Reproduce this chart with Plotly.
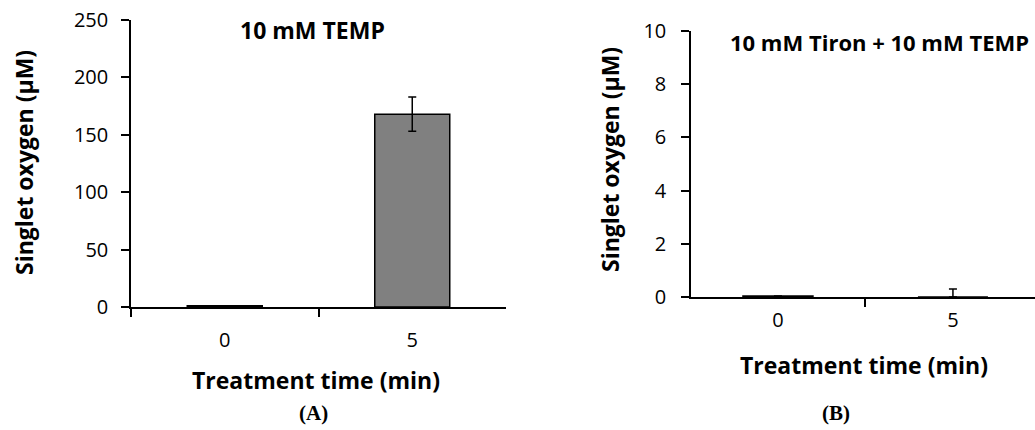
import plotly.graph_objects as go

categories = ["0", "5"]
temp_values = [1, 168]
temp_errors = [0, 15]
tiron_values = [0.04, 0]
tiron_errors = [0, 0.3]
temp_yticks = [0, 50, 100, 150, 200, 250]
tiron_yticks = [0, 2, 4, 6, 8, 10]

FONT = "Open Sans"
BAR_COLOR = "#808080"

fig = go.Figure()
fig.add_trace(go.Bar(
    x=categories, y=temp_values, xaxis="x", yaxis="y", width=0.4,
    marker=dict(color=BAR_COLOR, line=dict(color="black", width=1.5)),
    error_y=dict(type="data", array=temp_errors, visible=True, color="black", thickness=1.5, width=4),
    showlegend=False,
))
fig.add_trace(go.Bar(
    x=categories, y=tiron_values, xaxis="x2", yaxis="y2", width=0.4,
    marker=dict(color=BAR_COLOR, line=dict(color="black", width=1.5)),
    error_y=dict(type="data", array=tiron_errors, arrayminus=[0, 0], visible=True, color="black", thickness=1.5, width=4),
    showlegend=False,
))

axis_common = dict(showline=True, linecolor="black", linewidth=1.5, showgrid=False, zeroline=False,
                   ticks="outside", ticklen=8, tickwidth=1.5, tickcolor="black", automargin=False,
                   tickfont=dict(family=FONT, size=20, color="black"))

fig.update_layout(
    template="none",
    width=1035, height=430,
    margin=dict(l=0, r=0, t=0, b=0, pad=0),
    paper_bgcolor="white", plot_bgcolor="white",
    bargap=0.6,
    xaxis=dict(domain=[131/1035, 506/1035], type="category", tickson="boundaries",
               range=[-0.5, 1.5], anchor="y", ticklabelstandoff=14, **axis_common),
    yaxis=dict(domain=[123/430, 410/430], range=[0, 250], tickvals=temp_yticks, anchor="x",
               ticklabelstandoff=9, **axis_common),
    xaxis2=dict(domain=[691/1035, 1.0], type="category", tickson="boundaries",
                range=[-0.497, 1.469], anchor="y2", ticklabelstandoff=4, **axis_common),
    yaxis2=dict(domain=[133/430, 399/430], range=[0, 10], tickvals=tiron_yticks, anchor="x2",
                ticklabelstandoff=11, **axis_common),
)

def ann(text, x, y, size=19, bold=True, family=FONT, angle=0):
    fig.add_annotation(text=f"<b>{text}</b>" if bold else text, x=x/1035, y=1 - y/430,
                       xref="paper", yref="paper", showarrow=False, textangle=angle,
                       xanchor="center", yanchor="middle",
                       font=dict(family=family, size=size, color="black"))

ann("10 mM TEMP", 312, 30, size=23)
ann("10 mM Tiron + 10 mM TEMP", 879, 42, size=22)
ann("Treatment time (min)", 316, 380, size=23)
ann("Treatment time (min)", 864, 365, size=23)
ann("Singlet oxygen (µM)", 24, 163, size=23, angle=-90)
ann("Singlet oxygen (µM)", 610, 160, size=23, angle=-90)
ann("(A)", 313, 413, size=21, family="Liberation Serif")
ann("(B)", 836, 413, size=21, family="Liberation Serif")
fig.add_annotation(text="<b>*</b>", x="5", y=temp_values[1] + temp_errors[1], xref="x", yref="y",
                   showarrow=False, yanchor="bottom", yshift=0,
                   font=dict(family=FONT, size=22, color="black"))

fig.write_html("out.html", config={"displayModeBar": False},
               post_script="document.body.style.margin='0';document.body.style.overflow='hidden';")
